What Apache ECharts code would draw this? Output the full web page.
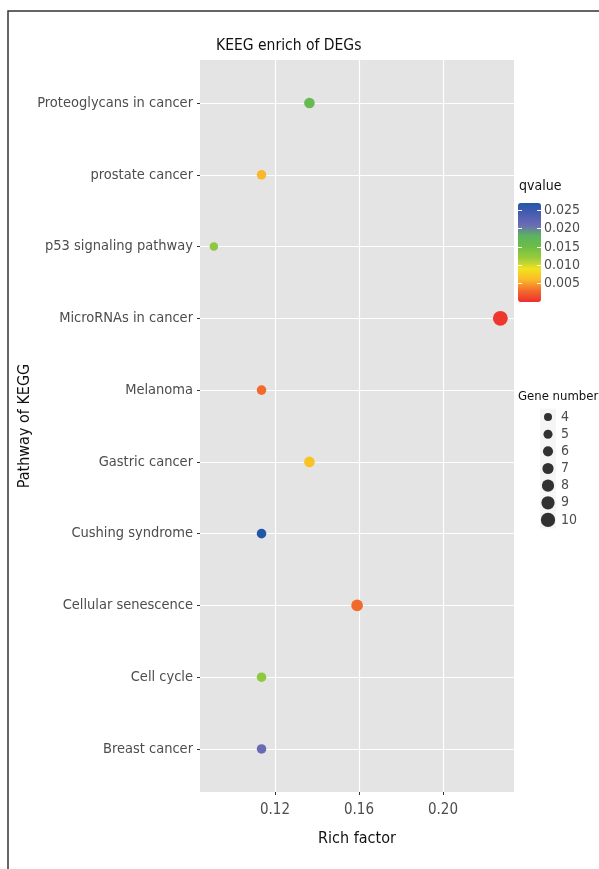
<!DOCTYPE html>
<html><head><meta charset="utf-8">
<script src="https://cdn.jsdelivr.net/npm/echarts@6/dist/echarts.min.js"></script>
<style>html,body{margin:0;padding:0;background:#fff}#c{width:599px;height:869px}</style>
</head><body><div id="c"></div>
<script>
const categories = ["Proteoglycans in cancer","prostate cancer","p53 signaling pathway","MicroRNAs in cancer","Melanoma","Gastric cancer","Cushing syndrome","Cellular senescence","Cell cycle","Breast cancer"];
const richFactor = [0.1364,0.1136,0.0909,0.2273,0.1136,0.1364,0.1136,0.1591,0.1136,0.1136];
const geneNumber = [6,5,4,10,5,6,5,7,5,5];
const qvalue = [0.0162,0.0060,0.0128,0.0004,0.0030,0.0068,0.0270,0.0030,0.0128,0.0212];
const xTicks = [0.12,0.16,0.20];
const qTicks = [0.005,0.010,0.015,0.020,0.025];
const sizeLegend = [4,5,6,7,8,9,10];

const FONT = '"DejaVu Sans Condensed","Liberation Sans Narrow",sans-serif';
const sz = n => 8.5 + (n - 4) * 1.05;

const chart = echarts.init(document.getElementById('c'), null, {renderer:'canvas'});
const mainData = categories.map((c,i)=>[richFactor[i], i, qvalue[i], geneNumber[i]]);
const yIdx = categories.map((c,i)=>i);

chart.setOption({
  animation:false,
  backgroundColor:'#fff',
  textStyle:{fontFamily:FONT},
  title:{text:'KEEG enrich of DEGs', left:216, top:38, padding:0, textStyle:{fontFamily:FONT,fontSize:15.5,fontWeight:'normal',color:'#111'}},
  graphic:[
    {type:'rect', shape:{x:8,y:11,width:620,height:900}, style:{fill:'none',stroke:'#333',lineWidth:1.5}, z:-1},
    {type:'text', left:519, top:179, style:{text:'qvalue', fontFamily:FONT, fontSize:14, fill:'#111'}},
    {type:'text', left:518, top:390, style:{text:'Gene number', fontFamily:FONT, fontSize:13, fill:'#111'}}
  ],
  grid:[
    {left:200, top:60, right:85, bottom:77, show:true, backgroundColor:'#E4E4E4', borderWidth:0, outerBoundsMode:'none', containLabel:false},
    {left:518, top:203, width:23, height:99, show:false, outerBoundsMode:'none', containLabel:false},
    {left:540, top:408.5, width:16, height:120, show:false, outerBoundsMode:'none', containLabel:false}
  ],
  xAxis:[
    {gridIndex:0, type:'value', min:0.0843, max:0.2338, position:'bottom',
      name:'Rich factor', nameLocation:'middle', nameGap:39, nameTextStyle:{fontFamily:FONT,fontSize:16,color:'#111'},
      axisLine:{show:false, onZero:false},
      axisTick:{show:true, length:3, lineStyle:{color:'#333'}, customValues:xTicks},
      axisLabel:{customValues:xTicks, fontFamily:FONT, fontSize:15, color:'#4D4D4D', margin:11, formatter:v=>v.toFixed(2)},
      splitLine:{show:true, lineStyle:{color:'#fff', width:1.2}}},
    {gridIndex:1, type:'value', show:false, min:0, max:1},
    {gridIndex:2, type:'value', show:false, min:0, max:1}
  ],
  yAxis:[
    {gridIndex:0, type:'value', min:-0.6, max:9.6, inverse:true, position:'left',
      name:'Pathway of KEGG', nameLocation:'middle', nameGap:167, nameMoveOverlap:false, nameRotate:90, nameTextStyle:{fontFamily:FONT,fontSize:16,color:'#111'},
      axisLine:{show:false, onZero:false},
      axisTick:{show:true, length:3, lineStyle:{color:'#333'}, customValues:yIdx},
      axisLabel:{customValues:yIdx, fontFamily:FONT, fontSize:14.5, color:'#4D4D4D', margin:7, formatter:v=>categories[Math.round(v)]},
      splitLine:{show:true, lineStyle:{color:'#fff', width:1.2}}},
    {gridIndex:1, type:'value', min:0, max:0.027, position:'right', z:10,
      axisLine:{show:false, onZero:false},
      axisTick:{show:true, inside:true, length:4, lineStyle:{color:'#fff', width:1}, customValues:qTicks},
      axisLabel:{customValues:qTicks, fontFamily:FONT, fontSize:14, color:'#4D4D4D', margin:3, formatter:v=>v.toFixed(3)},
      splitLine:{show:false}},
    {gridIndex:1, type:'value', min:0, max:0.027, position:'left', z:10,
      axisLine:{show:false, onZero:false},
      axisTick:{show:true, inside:true, length:4, lineStyle:{color:'#fff', width:1}, customValues:qTicks},
      axisLabel:{show:false}, splitLine:{show:false}},
    {gridIndex:2, type:'value', min:3.5, max:10.5, inverse:true, position:'right',
      axisLine:{show:false, onZero:false}, axisTick:{show:false},
      axisLabel:{customValues:sizeLegend, fontFamily:FONT, fontSize:14, color:'#4D4D4D', margin:5, formatter:v=>String(v)},
      splitLine:{show:false}}
  ],
  visualMap:[{
    type:'continuous', seriesIndex:0, dimension:2, min:0, max:0.027,
    left:518, top:203, itemWidth:23, itemHeight:99, padding:0, calculable:false, text:null, showLabel:false,
    inRange:{color:['#EE2E2E','#F26A2B','#FBB829','#F2E21F','#9ACB3C','#6DBE45','#5BB35F','#6B6BB5','#4A5DB0','#2157A8']},
    z:4
  }],
  series:[
    {type:'scatter', xAxisIndex:0, yAxisIndex:0, data:mainData, symbol:'circle',
      symbolSize:d=>sz(d[3]), itemStyle:{opacity:1}, z:5},
    {type:'scatter', xAxisIndex:2, yAxisIndex:3, data:sizeLegend.map(n=>[0.5,n]), symbol:'rect',
      symbolSize:[16,17], itemStyle:{color:'#F2F2F2'}, silent:true, z:2},
    {type:'scatter', xAxisIndex:2, yAxisIndex:3, data:sizeLegend.map(n=>[0.5,n]), symbol:'circle',
      symbolSize:d=>sz(d[1])-0.5, itemStyle:{color:'#000'}, z:3}
  ]
});
</script>
</body></html>
